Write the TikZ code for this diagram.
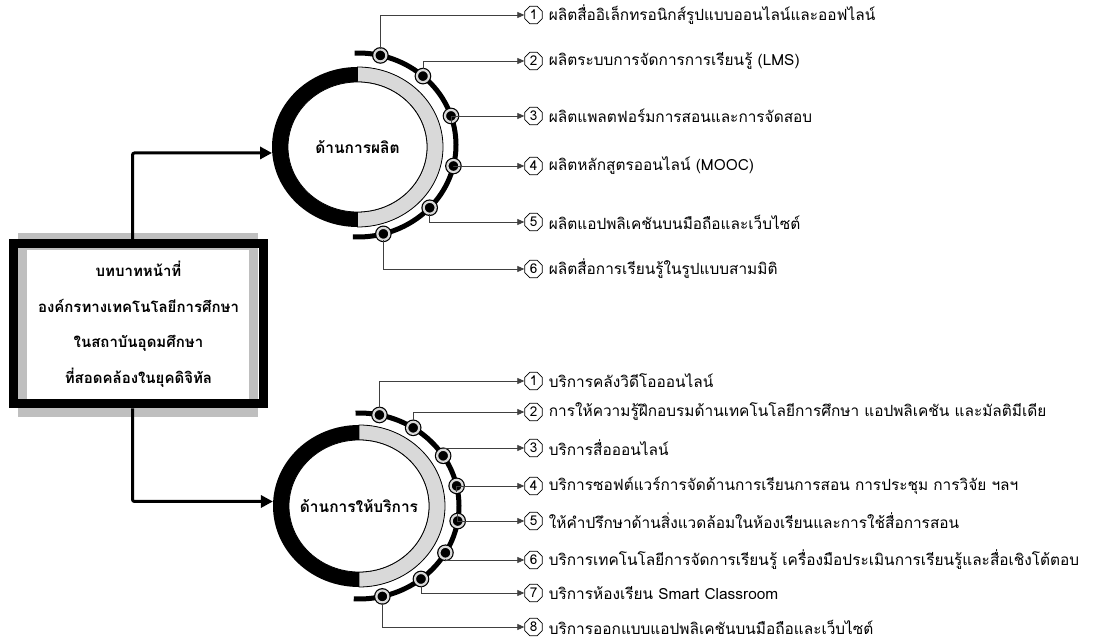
\documentclass[tikz,border=0pt]{standalone}
\usepackage{fontspec}
\setmainfont[Script=Thai]{Loma}
\usetikzlibrary{positioning,shapes.geometric,arrows.meta}
\definecolor{ringgray}{HTML}{D9D9D9}
\definecolor{shadegray}{HTML}{BFBFBF}
\definecolor{leadgray}{HTML}{404040}

\begin{document}
\begin{tikzpicture}[
    x=1pt, y=1pt,
    rolebox/.style={%
      draw,
      line width=9pt,
      minimum width=250pt,
      minimum height=160pt,
      align=center,
      font=\fontsize{15}{35.5}\selectfont\bfseries,
    },
    hub/.style={%
      ellipse,
      minimum width=171pt,
      minimum height=160pt,
      inner sep=0pt,
      font=\fontsize{15.5}{17}\selectfont\bfseries,
    },
    branch/.style={%
      line width=3pt,
      rounded corners=2pt,
      -{Triangle[length=12pt,width=12pt]},
    },
    orbit/.style={%
      line width=5pt,
    },
    dot/.style={%
      circle,
      draw,
      fill,
      line width=1.2pt,
      double=ringgray,
      double distance=2.2pt,
      minimum size=12pt,
      inner sep=0pt,
    },
    badge/.style={%
      regular polygon,
      regular polygon sides=8,
      draw,
      fill=white,
      line width=0.8pt,
      minimum size=19pt,
      inner sep=0pt,
      font=\fontsize{13.5}{15}\selectfont,
    },
    item/.style={%
      anchor=west,
      inner sep=0pt,
      font=\fontsize{15.4}{17}\selectfont,
    },
    leader/.style={%
      draw=leadgray,
      line width=0.7pt,
      -{Triangle[length=7pt,width=6pt]},
    },
  ]
    \useasboundingbox (0,0) rectangle (1096,640);

    % main box
    \fill [shadegray] (18,223) rectangle (258,407);
    \fill [white] (27,239) rectangle (249,390);
    \node [rolebox] (role) at (138.5,316) {บทบาทหน้าที่\\องค์กรทางเทคโนโลยีการศึกษา\\ในสถาบันอุดมศึกษา\\ที่สอดคล้องในยุคดิจิทัล};

    % production ring
    \coordinate (prodC) at (357.5,493);
    \fill (prodC) ellipse [x radius=85.5, y radius=80];
    \draw [line width=0.8pt, fill=ringgray] ([yshift=80pt]prodC) arc [start angle=90, end angle=-90, x radius=85.5, y radius=80]
      -- ++(0,15) arc [start angle=-90, end angle=90, x radius=69.5, y radius=65] -- cycle;
    \draw [line width=0.8pt, fill=white] (prodC) ellipse [x radius=69.5, y radius=65];
    \node [hub] (prod) at (prodC) {ด้านการผลิต};

    % service ring
    \coordinate (servC) at (359,134);
    \fill (servC) ellipse [x radius=86, y radius=81];
    \draw [line width=0.8pt, fill=ringgray] ([yshift=81pt]servC) arc [start angle=90, end angle=-90, x radius=86, y radius=81]
      -- ++(0,15) arc [start angle=-90, end angle=90, x radius=70, y radius=66] -- cycle;
    \draw [line width=0.8pt, fill=white] (servC) ellipse [x radius=70, y radius=66];
    \node [hub, minimum width=172pt, minimum height=162pt] (serv) at (servC) {ด้านการให้บริการ};

    \draw [branch] ([xshift=-6pt]role.north) |- (prod.184);
    \draw [branch] ([xshift=-6pt]role.south) |- (serv.177);

    % outer arcs
    \draw [orbit] ([shift={(358,495)}]92:98 and 92) arc [start angle=92, end angle=-93, x radius=98, y radius=92];
    \draw [orbit] ([shift={(359,134)}]92:100 and 93) arc [start angle=92, end angle=-93, x radius=100, y radius=93];

    \node [dot] (p1) at ([shift={(358,495)}]76.8:98 and 92) {};
    \node [dot] (p2) at ([shift={(358,495)}]48.5:98 and 92) {};
    \node [dot] (p3) at ([shift={(358,495)}]18.4:98 and 92) {};
    \node [dot] (p4) at ([shift={(358,495)}]-13.2:98 and 92) {};
    \node [dot] (p5) at ([shift={(358,495)}]-43:98 and 92) {};
    \node [dot] (p6) at ([shift={(358,495)}]-75:98 and 92) {};

    \node [dot] (s1) at ([shift={(359,134)}]78.2:100 and 93) {};
    \node [dot] (s2) at ([shift={(359,134)}]57.2:100 and 93) {};
    \node [dot] (s3) at ([shift={(359,134)}]32.7:100 and 93) {};
    \node [dot] (s4) at ([shift={(359,134)}]12.5:100 and 93) {};
    \node [dot] (s5) at ([shift={(359,134)}]-9.3:100 and 93) {};
    \node [dot] (s6) at ([shift={(359,134)}]-30.2:100 and 93) {};
    \node [dot] (s7) at ([shift={(359,134)}]-51.7:100 and 93) {};
    \node [dot] (s8) at ([shift={(359,134)}]-76.5:100 and 93) {};

    % production items
    \node [badge] (n1) at (533.5,625) {1};
    \node [badge] (n2) at (533.5,579) {2};
    \node [badge] (n3) at (533.5,524) {3};
    \node [badge] (n4) at (533.5,474) {4};
    \node [badge] (n5) at (533.5,418) {5};
    \node [badge] (n6) at (533.5,371) {6};
    \node [item, right=6pt of n1] (t1) {ผลิตสื่ออิเล็กทรอนิกส์รูปแบบออนไลน์และออฟไลน์};
    \node [item, right=6pt of n2] (t2) {ผลิตระบบการจัดการการเรียนรู้ (LMS)};
    \node [item, right=6pt of n3] (t3) {ผลิตแพลตฟอร์มการสอนและการจัดสอบ};
    \node [item, right=6pt of n4] (t4) {ผลิตหลักสูตรออนไลน์ (MOOC)};
    \node [item, right=6pt of n5] (t5) {ผลิตแอปพลิเคชันบนมือถือและเว็บไซต์};
    \node [item, right=6pt of n6] (t6) {ผลิตสื่อการเรียนรู้ในรูปแบบสามมิติ};

    % service items
    \node [badge] (m1) at (533.5,259) {1};
    \node [badge] (m2) at (533.5,228) {2};
    \node [badge] (m3) at (533.5,192) {3};
    \node [badge] (m4) at (533.5,154) {4};
    \node [badge] (m5) at (533.5,119) {5};
    \node [badge] (m6) at (533.5,80) {6};
    \node [badge] (m7) at (533.5,47) {7};
    \node [badge] (m8) at (533.5,13) {8};
    \node [item, right=6pt of m1] (u1) {บริการคลังวิดีโอออนไลน์};
    \node [item, right=6pt of m2] (u2) {การให้ความรู้ฝึกอบรมด้านเทคโนโลยีการศึกษา แอปพลิเคชัน และมัลติมีเดีย};
    \node [item, right=6pt of m3] (u3) {บริการสื่อออนไลน์};
    \node [item, right=6pt of m4] (u4) {บริการซอฟต์แวร์การจัดด้านการเรียนการสอน การประชุม การวิจัย ฯลฯ};
    \node [item, right=6pt of m5] (u5) {ให้คำปรึกษาด้านสิ่งแวดล้อมในห้องเรียนและการใช้สื่อการสอน};
    \node [item, right=6pt of m6] (u6) {บริการเทคโนโลยีการจัดการเรียนรู้ เครื่องมือประเมินการเรียนรู้และสื่อเชิงโต้ตอบ};
    \node [item, right=6pt of m7] (u7) {บริการห้องเรียน Smart Classroom};
    \node [item, right=6pt of m8] (u8) {บริการออกแบบแอปพลิเคชันบนมือถือและเว็บไซต์};

    \draw [leader] (p1) |- (n1);
    \draw [leader] (p2) |- (n2);
    \draw [leader] (p3) |- (n3);
    \draw [leader] (p4) |- (n4);
    \draw [leader] (p5) |- (n5);
    \draw [leader] (p6) |- (n6);

    \draw [leader] (s1) |- (m1);
    \draw [leader] (s2) |- (m2);
    \draw [leader] (s3) |- (m3);
    \draw [leader] (s4) |- (m4);
    \draw [leader] (s5) |- (m5);
    \draw [leader] (s6) |- (m6);
    \draw [leader] (s7) |- (m7);
    \draw [leader] (s8) |- (m8);
\end{tikzpicture}
\end{document}
